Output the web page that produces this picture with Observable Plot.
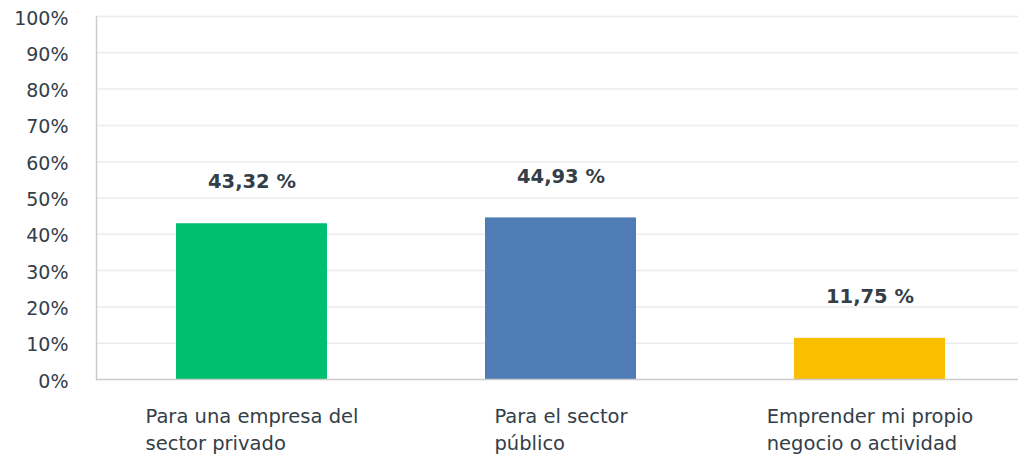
<!DOCTYPE html>
<html>
<head>
<meta charset="utf-8">
<script src="https://cdn.jsdelivr.net/npm/d3@7"></script>
<script src="https://cdn.jsdelivr.net/npm/@observablehq/plot@0.6"></script>
<style>
  html, body { margin: 0; padding: 0; background: #fff; }
  #chart { width: 1018px; height: 454px; }
</style>
</head>
<body>
<div id="chart"></div>
<script>
const categories = ["Para una empresa del sector privado", "Para el sector público", "Emprender mi propio negocio o actividad"];
const labelLines = ["Para una empresa del\nsector privado", "Para el sector\npúblico", "Emprender mi propio\nnegocio o actividad"];
const values = [43.32, 44.93, 11.75];
const colors = ["#00bf6f", "#507cb6", "#f9be00"];
const yTicks = [0, 10, 20, 30, 40, 50, 60, 70, 80, 90, 100];

const data = categories.map((c, i) => ({cat: c, value: values[i], label: labelLines[i], color: colors[i]}));
const textColor = "#333e48";
const font = "'DejaVu Sans', Verdana, sans-serif";

const chart = Plot.plot({
  width: 1018,
  height: 454,
  marginLeft: 96,
  marginRight: 0,
  marginTop: 16,
  marginBottom: 75,
  style: {fontFamily: font, color: textColor, background: "#fff", overflow: "hidden"},
  x: {domain: categories, paddingInner: 0.512, paddingOuter: 0.247, align: 0.524, axis: null},
  y: {domain: [0, 100], axis: null},
  marks: [
    Plot.ruleY(yTicks.filter(d => d > 0), {stroke: "#ececec", strokeWidth: 1.5}),
    Plot.barY(data, {x: "cat", y: "value", fill: "color", insetTop: 1.5}),
    Plot.axisY({ticks: yTicks, tickSize: 0, tickPadding: 28, tickFormat: d => d + "%", fontSize: 19, dy: 2, fill: textColor, label: null}),
    Plot.frame({anchor: "left", stroke: "#cccccc", strokeWidth: 1.5}),
    Plot.ruleY([0], {stroke: "#cccccc", strokeWidth: 1.5}),
    Plot.text(data, {x: "cat", y: "value", text: d => d.value.toFixed(2).replace(".", ",") + " %", dy: -40, fontSize: 19.5, fontWeight: "bold", fill: textColor}),
    Plot.text(data, {x: "cat", y: 0, text: "label", dy: 24, lineAnchor: "top", lineHeight: 1.4, fontSize: 19.5, fill: textColor, className: "catlabel"})
  ]
});
document.getElementById("chart").appendChild(chart);

// left-align lines inside each category label, block centred on bar
chart.querySelectorAll(".catlabel text").forEach(t => {
  const spans = t.querySelectorAll("tspan");
  let w = 0;
  spans.forEach(s => { w = Math.max(w, s.getComputedTextLength()); });
  t.setAttribute("text-anchor", "start");
  const tr = t.getAttribute("transform") || "";
  t.setAttribute("transform", tr + ` translate(${-w / 2},0)`);
});
</script>
</body>
</html>
